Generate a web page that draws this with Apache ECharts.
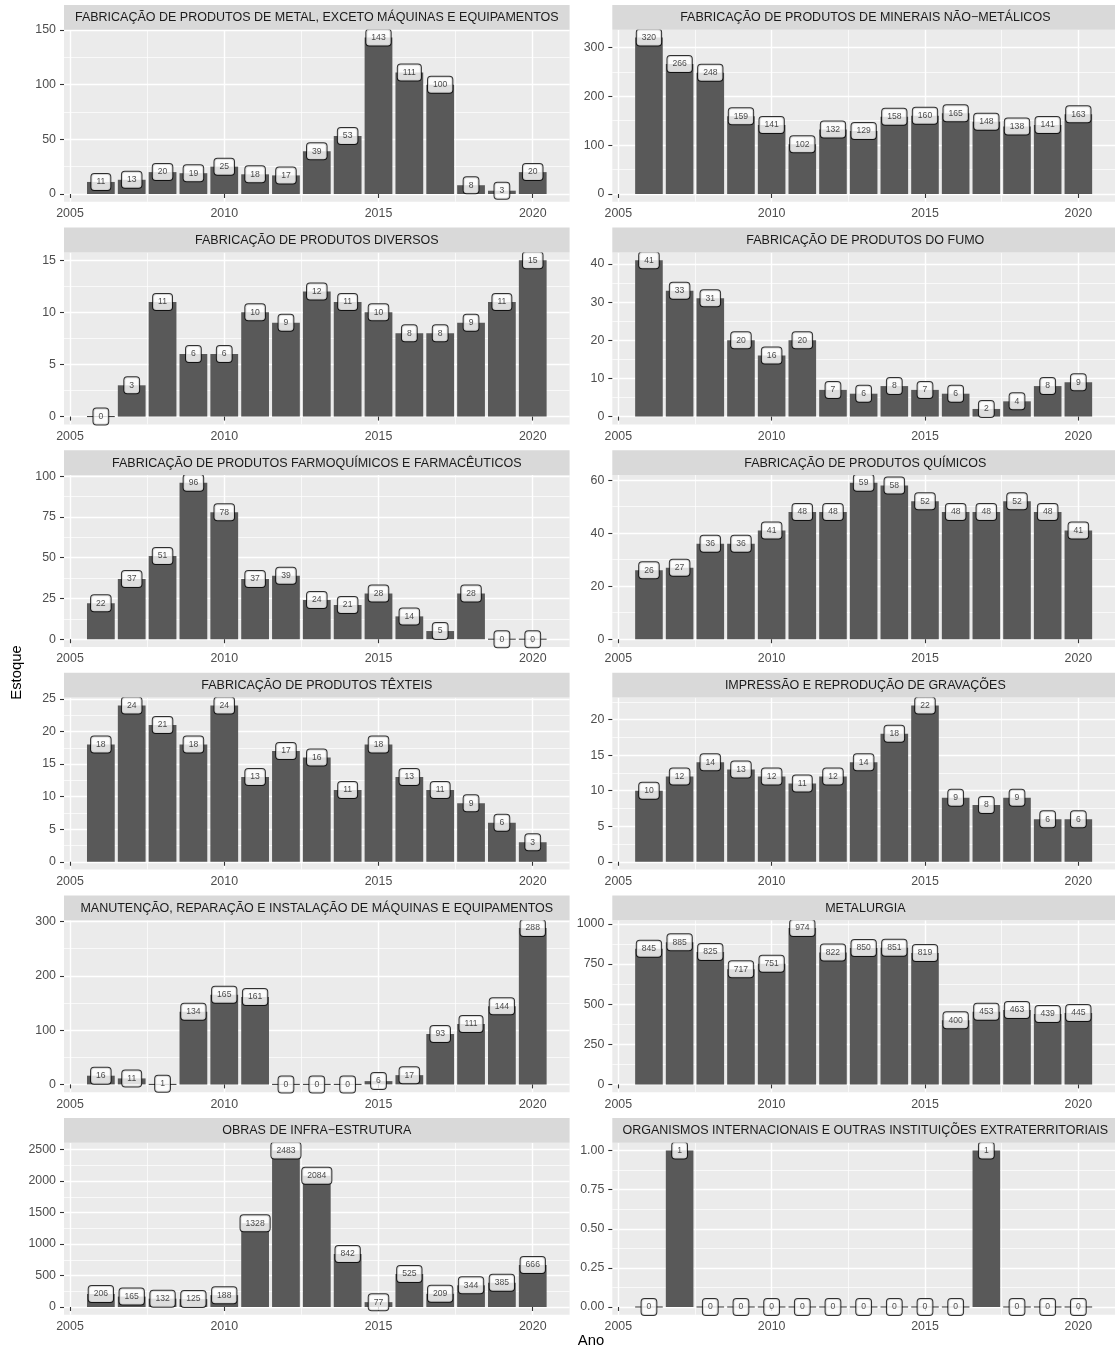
<!DOCTYPE html>
<html><head><meta charset="utf-8">
<script src="https://cdn.jsdelivr.net/npm/echarts@6/dist/echarts.min.js"></script>
<style>html,body{margin:0;padding:0;background:#fff}#c{width:1115px;height:1353px}</style>
</head><body><div id="c"></div>
<script>
const years = [2006,2007,2008,2009,2010,2011,2012,2013,2014,2015,2016,2017,2018,2019,2020];
const panelTitles = [
  'FABRICAÇÃO DE PRODUTOS DE METAL, EXCETO MÁQUINAS E EQUIPAMENTOS',
  'FABRICAÇÃO DE PRODUTOS DE MINERAIS NÃO−METÁLICOS',
  'FABRICAÇÃO DE PRODUTOS DIVERSOS',
  'FABRICAÇÃO DE PRODUTOS DO FUMO',
  'FABRICAÇÃO DE PRODUTOS FARMOQUÍMICOS E FARMACÊUTICOS',
  'FABRICAÇÃO DE PRODUTOS QUÍMICOS',
  'FABRICAÇÃO DE PRODUTOS TÊXTEIS',
  'IMPRESSÃO E REPRODUÇÃO DE GRAVAÇÕES',
  'MANUTENÇÃO, REPARAÇÃO E INSTALAÇÃO DE MÁQUINAS E EQUIPAMENTOS',
  'METALURGIA',
  'OBRAS DE INFRA−ESTRUTURA',
  'ORGANISMOS INTERNACIONAIS E OUTRAS INSTITUIÇÕES EXTRATERRITORIAIS'
];
const metal      = [11,13,20,19,25,18,17,39,53,143,111,100,8,3,20];
const minerais   = [320,266,248,159,141,102,132,129,158,160,165,148,138,141,163];
const diversos   = [0,3,11,6,6,10,9,12,11,10,8,8,9,11,15];
const fumo       = [41,33,31,20,16,20,7,6,8,7,6,2,4,8,9];
const farmo      = [22,37,51,96,78,37,39,24,21,28,14,5,28,0,0];
const quimicos   = [26,27,36,36,41,48,48,59,58,52,48,48,52,48,41];
const texteis    = [18,24,21,18,24,13,17,16,11,18,13,11,9,6,3];
const impressao  = [10,12,14,13,12,11,12,14,18,22,9,8,9,6,6];
const manutencao = [16,11,1,134,165,161,0,0,0,6,17,93,111,144,288];
const metalurgia = [845,885,825,717,751,974,822,850,851,819,400,453,463,439,445];
const obras      = [206,165,132,125,188,1328,2483,2084,842,77,525,209,344,385,666];
const organismos = [0,1,0,0,0,0,0,0,0,0,0,1,0,0,0];
const panelValues = [metal,minerais,diversos,fumo,farmo,quimicos,texteis,impressao,manutencao,metalurgia,obras,organismos];
const yBreaks = [
  [0,50,100,150],[0,100,200,300],[0,5,10,15],[0,10,20,30,40],
  [0,25,50,75,100],[0,20,40,60],[0,5,10,15,20,25],[0,5,10,15,20],
  [0,100,200,300],[0,250,500,750,1000],[0,500,1000,1500,2000,2500],[0,0.25,0.5,0.75,1]
];
const yDecimals = [0,0,0,0,0,0,0,0,0,0,0,2];
const xBreaks = [2005,2010,2015,2020];
const xMinor = [2007.5,2012.5,2017.5];

const FONT = 'Liberation Sans, Arial, Helvetica, sans-serif';
const AXIS_FS = 12.4, STRIP_FS = 12.5, TITLE_FS = 14.8;
const colLeft = [64, 612.3];
const colWidth = [505.6, 506];
const rowTop0 = 5, rowPitch = 222.6, stripH = 24.8, plotH = 172;
const xMin = 2004.805, xMax = 2021.195;

const grids = [], xAxes = [], yAxes = [], series = [], graphics = [];

function minorOf(b) {
  const out = [];
  for (let k = 0; k < b.length - 1; k++) out.push((b[k] + b[k+1]) / 2);
  const step = b[1] - b[0];
  out.push(b[b.length-1] + step/2);
  out.unshift(b[0] - step/2);
  return out;
}

function renderBar(params, api) {
  const x = api.value(0), v = api.value(1);
  const a = api.coord([x - 0.45, v]);
  const b = api.coord([x + 0.45, 0]);
  const h = b[1] - a[1];
  if (h < 1) {
    return {type:'rect', shape:{x:a[0], y:b[1]-0.5, width:b[0]-a[0], height:1}, style:{fill:'#333333'}};
  }
  return {type:'rect', shape:{x:a[0], y:a[1], width:b[0]-a[0], height:h}, style:{fill:'#595959'}};
}

panelValues.forEach((vals, i) => {
  const row = Math.floor(i/2), col = i % 2;
  const stripTop = rowTop0 + rowPitch*row;
  const top = stripTop + stripH;
  const vmax = Math.max(...vals);
  const ymin = -0.05*vmax, ymax = 1.05*vmax;
  grids.push({left: colLeft[col], top: top, width: colWidth[col], height: plotH,
    show: true, backgroundColor: '#EBEBEB', borderWidth: 0, containLabel: false});
  xAxes.push({gridIndex: i, type: 'value', min: xMin, max: xMax, position: 'bottom',
    axisLine: {show: false},
    axisTick: {show: true, customValues: xBreaks, length: 4, lineStyle: {color: '#333333', width: 1.1}},
    axisLabel: {show: true, customValues: xBreaks, color: '#4D4D4D', fontSize: AXIS_FS, fontFamily: FONT, margin: 6,
      formatter: v => String(v)},
    splitLine: {show: true, lineStyle: {color: '#FFFFFF', width: 1.4}}
  });
  xAxes.push({gridIndex: i, type: 'value', min: xMin, max: xMax, position: 'top',
    axisLine: {show: false}, axisTick: {show: false, customValues: xMinor}, axisLabel: {show: false, customValues: xMinor},
    splitLine: {show: true, lineStyle: {color: '#FFFFFF', width: 0.7}}
  });
  const yb = yBreaks[i], dec = yDecimals[i];
  yAxes.push({gridIndex: i, type: 'value', min: ymin, max: ymax, position: 'left',
    axisLine: {show: false},
    axisTick: {show: true, customValues: yb, length: 4, lineStyle: {color: '#333333', width: 1.1}},
    axisLabel: {show: true, customValues: yb, color: '#4D4D4D', fontSize: AXIS_FS, fontFamily: FONT, margin: 8,
      formatter: v => Number(v).toFixed(dec)},
    splitLine: {show: true, lineStyle: {color: '#FFFFFF', width: 1.4}}
  });
  const ym = minorOf(yb).filter(v => v > ymin && v < ymax);
  yAxes.push({gridIndex: i, type: 'value', min: ymin, max: ymax, position: 'right',
    axisLine: {show: false}, axisTick: {show: false, customValues: ym}, axisLabel: {show: false, customValues: ym},
    splitLine: {show: true, lineStyle: {color: '#FFFFFF', width: 0.7}}
  });
  const data = years.map((y, k) => [y, vals[k]]);
  series.push({type: 'custom', xAxisIndex: 2*i, yAxisIndex: 2*i, data: data, renderItem: renderBar, z: 2, silent: true});
  series.push({type: 'scatter', xAxisIndex: 2*i, yAxisIndex: 2*i, data: data, symbolSize: 2, z: 3, silent: true,
    itemStyle: {color: 'rgba(0,0,0,0)'},
    label: {show: true, position: 'inside', formatter: p => String(p.value[1]),
      fontSize: 8.6, lineHeight: 10, fontFamily: FONT, color: '#1A1A1A',
      backgroundColor: '#FFFFFF', borderColor: '#000000', borderWidth: 1, borderRadius: 3,
      padding: [3, 5, 3, 5]},
    labelLayout: {hideOverlap: false}
  });
  graphics.push({type: 'rect', z: 100, shape: {x: colLeft[col], y: stripTop, width: colWidth[col], height: stripH},
    style: {fill: '#D9D9D9'}});
  graphics.push({type: 'text', z: 101, x: colLeft[col] + colWidth[col]/2, y: stripTop + stripH/2 + 0.5,
    style: {text: panelTitles[i], fill: '#1A1A1A', fontSize: STRIP_FS, fontFamily: FONT,
      align: 'center', verticalAlign: 'middle', textAlign: 'center', textVerticalAlign: 'middle'}});
});

graphics.push({type: 'text', z: 101, x: 16.5, y: 672.5, rotation: Math.PI/2,
  style: {text: 'Estoque', fill: '#000000', fontSize: TITLE_FS, fontFamily: FONT,
    align: 'center', verticalAlign: 'middle', textAlign: 'center', textVerticalAlign: 'middle'}});
graphics.push({type: 'text', z: 101, x: 591, y: 1341,
  style: {text: 'Ano', fill: '#000000', fontSize: TITLE_FS, fontFamily: FONT,
    align: 'center', verticalAlign: 'middle', textAlign: 'center', textVerticalAlign: 'middle'}});

const chart = echarts.init(document.getElementById('c'), null, {renderer: 'canvas'});
chart.setOption({
  animation: false,
  backgroundColor: '#FFFFFF',
  grid: grids, xAxis: xAxes, yAxis: yAxes, series: series,
  graphic: {elements: graphics}
});
</script>
</body></html>
